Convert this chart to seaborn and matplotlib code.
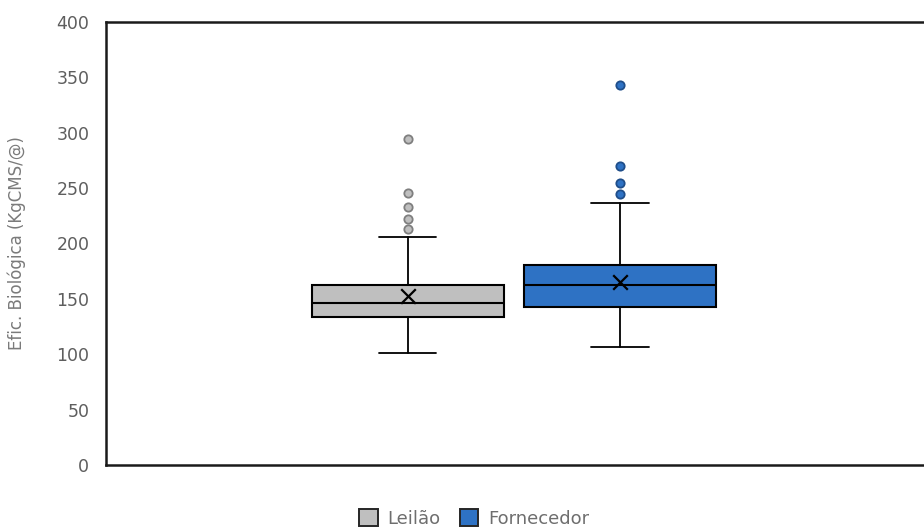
import matplotlib
matplotlib.use("Agg")
import matplotlib.pyplot as plt
from matplotlib.patches import Patch
import seaborn as sns
import pandas as pd

# ---- data ----
groups = ["Leilão", "Fornecedor"]
whisker_low = [101.4, 106.8]
q1 = [133.4, 142.4]
median = [146.0, 162.3]
q3 = [162.5, 180.3]
whisker_high = [205.9, 236.3]
mean = [152.5, 165.5]
outliers_leilao = [212.8, 222.4, 232.7, 245.9, 294.0]
outliers_fornecedor = [245.0, 254.3, 270.3, 342.8]
yticks = [0, 50, 100, 150, 200, 250, 300, 350, 400]
ylabel = "Efic. Biológica (KgCMS/@)"

fill_colors = ["#BFBFBF", "#2E72C4"]
edge_out = ["#7F7F7F", "#1F4E8A"]
positions = [0.3688, 0.6284]
box_width = 0.2347

sns.set_style("white")
plt.rcParams["font.family"] = ["DejaVu Sans"]

fig = plt.figure(figsize=(9.24, 5.31), dpi=100)
ax = fig.add_axes([106 / 924, 66 / 531, 818 / 924, 443 / 531])

stats = []
for i, g in enumerate(groups):
    stats.append(dict(label=g, whislo=whisker_low[i], q1=q1[i], med=median[i],
                      q3=q3[i], whishi=whisker_high[i], mean=mean[i], fliers=[]))

bp = ax.bxp(stats, positions=positions, widths=box_width, patch_artist=True,
            showmeans=False, showfliers=False, manage_ticks=False,
            boxprops=dict(edgecolor="black", linewidth=1.5),
            medianprops=dict(color="black", linewidth=1.5),
            whiskerprops=dict(color="black", linewidth=1.3),
            capprops=dict(color="black", linewidth=1.3),
            capwidths=0.07)
for patch, c in zip(bp["boxes"], fill_colors):
    patch.set_facecolor(c)

out_df = pd.DataFrame({
    "x": [positions[0]] * len(outliers_leilao) + [positions[1]] * len(outliers_fornecedor),
    "y": outliers_leilao + outliers_fornecedor,
    "grp": [groups[0]] * len(outliers_leilao) + [groups[1]] * len(outliers_fornecedor),
})
for i, g in enumerate(groups):
    sub = out_df[out_df["grp"] == g]
    sns.scatterplot(data=sub, x="x", y="y", ax=ax, s=36, color=fill_colors[i],
                    edgecolor=edge_out[i], linewidth=1.3, zorder=5, legend=False)

mean_df = pd.DataFrame({"x": positions, "y": mean})
sns.scatterplot(data=mean_df, x="x", y="y", ax=ax, marker="x", s=110,
                color="black", linewidth=1.6, zorder=6, legend=False)

ax.set_xlim(0, 1)
ax.set_ylim(0, 400)
ax.set_yticks(yticks)
ax.set_yticklabels([str(t) for t in yticks])
ax.set_xticks([])
ax.set_xlabel("")
ax.set_ylabel(ylabel, color="#7A7A7A", fontsize=12, labelpad=22)
ax.tick_params(axis="y", length=0, pad=12, labelsize=12.5, labelcolor="#5E5E5E")
for name, s in ax.spines.items():
    s.set_color("#1a1a1a")
    s.set_linewidth(1.8)
    s.set_visible(name != "right")

handles = [Patch(facecolor=fill_colors[i], edgecolor="#262626", linewidth=1.4, label=g)
           for i, g in enumerate(groups)]
leg = fig.legend(handles=handles, loc="center", bbox_to_anchor=(474.5 / 924, 1 - 518.5 / 531),
                 ncol=2, frameon=False, fontsize=13, handlelength=1.0, handleheight=1.0,
                 handletextpad=0.55, columnspacing=1.1, labelcolor="#6E6E6E")

fig.savefig("out.png", dpi=100)
